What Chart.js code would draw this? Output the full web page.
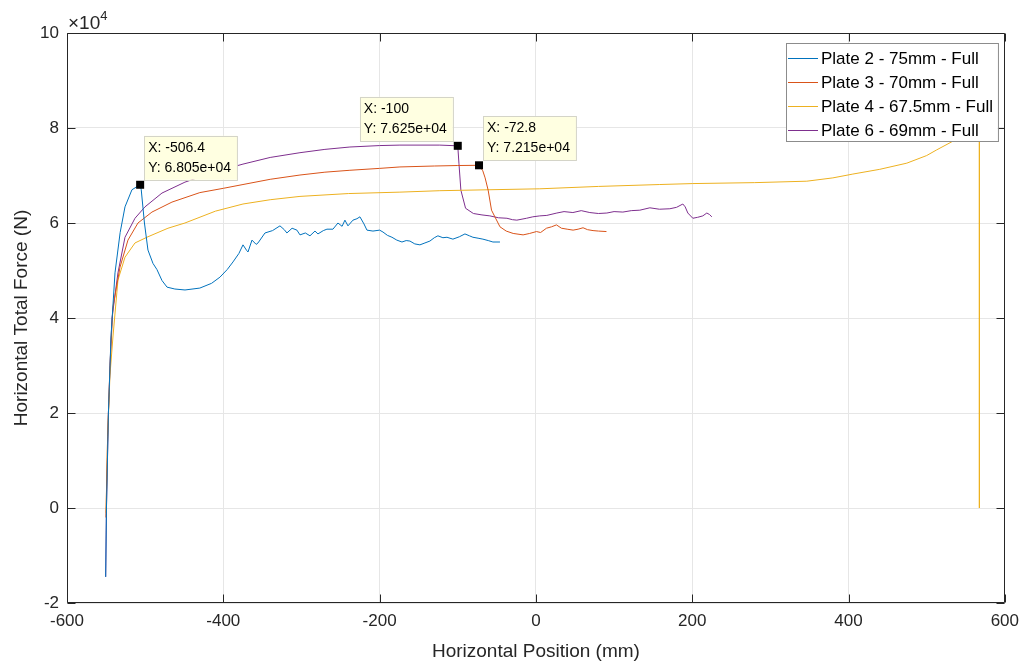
<!DOCTYPE html>
<html>
<head>
<meta charset="utf-8">
<script src="https://cdn.jsdelivr.net/npm/chart.js@4.4.1/dist/chart.umd.min.js"></script>
<style>
  body { margin: 0; background: #fff; }
</style>
</head>
<body>
<canvas id="chart" width="1027" height="666"></canvas>
<script>
// axis ticks
const xTicks = [-600, -400, -200, 0, 200, 400, 600];
const yTicks = [-20000, 0, 20000, 40000, 60000, 80000, 100000];

const seriesNames = ["Plate 2 - 75mm - Full", "Plate 3 - 70mm - Full", "Plate 4 - 67.5mm - Full", "Plate 6 - 69mm - Full"];
const seriesColors = ["#0072BD", "#D95319", "#EDB120", "#7E2F8E"];

// [position mm, force N]
const plate2 = [[-550.5,-14500],[-549.5,0],[-547,20000],[-543.7,36000],[-538.6,49500],[-532,58000],[-525.8,63400],
  [-516.9,67000],[-506.4,68050],[-505,67000],[-500.9,60000],[-496.4,54300],[-490,51500],[-484.9,50200],[-478.5,47900],
  [-472,46500],[-462,46100],[-449,45900],[-430,46300],[-415,47300],[-404.3,48600],[-395,50200],[-387.6,51800],[-380,53600],
  [-374.8,55400],[-370,54200],[-368.4,53900],[-363.3,56400],[-358,55500],[-355.6,55800],[-346.7,57900],[-337,58400],
  [-327.5,59400],[-322,58600],[-318.6,57900],[-312,58900],[-305.8,58500],[-301.9,57500],[-295,57900],[-289.1,57300],
  [-282.7,58300],[-278.9,57700],[-272,58400],[-267.4,58700],[-259.7,58700],[-253.3,60000],[-248,59300],[-244.4,60600],
  [-240.5,59400],[-234.1,60600],[-229,60900],[-225.2,61300],[-220,59800],[-216.2,58500],[-208.5,58300],[-200,58500],
  [-195.7,58100],[-190,57400],[-184.2,57000],[-178,56400],[-171.4,56000],[-166,56300],[-161.2,56200],[-155,55600],
  [-148.4,55400],[-142,55800],[-135.6,56200],[-130,56900],[-125.4,57300],[-119,56900],[-113.8,57000],[-106.2,56600],
  [-98,57100],[-90.8,57700],[-85,57300],[-80.6,57000],[-74,56800],[-67.8,56600],[-61,56300],[-55,56000],[-46,56000]];

const plate3 = [[-550.2,-2000],[-548,15000],[-545,30000],[-541.2,42300],[-532.2,50700],[-522,56400],[-509.2,60000],
  [-491.3,62300],[-465.7,64400],[-430,66400],[-400,67300],[-374.8,68100],[-340,69200],[-301.9,70100],[-270,70700],
  [-238,71100],[-200,71500],[-174,71800],[-130,72000],[-100,72100],[-72.8,72150],[-68,71000],[-65,69500],[-61.1,66900],
  [-56.8,62700],[-46,59200],[-38,58300],[-29.1,57800],[-16.4,57500],[-8,57800],[0.7,58200],[6,58000],[13.5,58900],
  [20,59200],[26.3,59600],[32.7,58900],[40,58700],[47.6,58500],[54,58700],[60.3,59000],[66,58600],[73.1,58400],
  [80,58300],[90.3,58200]];

const plate4 = [[-550,-1000],[-548,15000],[-545,28000],[-541.2,36000],[-534.8,48000],[-525.8,52800],[-513,55800],
  [-496.4,57100],[-470.8,58900],[-449.1,60000],[-410,62500],[-374.8,64000],[-340,64900],[-301.9,65600],[-240,66200],
  [-174,66500],[-122.9,66800],[-60,67000],[5,67200],[80,67700],[158.5,68100],[200.8,68300],[280,68500],[346.6,68800],
  [380,69500],[405.5,70300],[440,71300],[474.6,72600],[500,74200],[512.9,75400],[532.2,77100],[550,78800],
  [562,79900],[566.5,80300],[567.5,78500],[567.9,30000],[567.3,2000],[567.2,0]];

const plate6 = [[-550.5,-14500],[-549.5,0],[-547,20000],[-544,34000],[-542.4,40000],[-534.8,49500],[-525.8,57000],
  [-513,61000],[-500.2,63400],[-478.5,66300],[-449.1,68600],[-410,70800],[-374.8,72400],[-340,73800],[-301.9,74800],
  [-270,75500],[-238,76000],[-200,76300],[-174,76400],[-123,76400],[-100,76250],[-98.5,72600],[-96,66900],[-90,63100],
  [-80,62000],[-69,61700],[-58.9,61500],[-48,61100],[-37.1,61000],[-30,60700],[-24.4,60600],[-12,61000],[-4,61300],
  [5,61500],[14,61600],[26.8,62100],[36,62400],[47.3,62200],[58,62600],[69,62200],[80,62000],[90.8,62100],[100,62400],
  [111.3,62300],[122,62600],[133,62700],[145.8,63200],[158,62900],[171.4,63000],[180,63300],[188,64000],[191,63400],
  [194.4,62100],[200.8,61000],[207,61200],[213.6,61500],[218.7,62100],[222,61800],[225.1,61300]];

// data cursors: [series index, x, y]
const cursorPoints = [[0, -506.4, 68050], [3, -100, 76250], [1, -72.8, 72150]];
const cursorText = [["X: -506.4", "Y: 6.805e+04"], ["X: -100", "Y: 7.625e+04"], ["X: -72.8", "Y: 7.215e+04"]];
const cursorSide = ["right", "left", "right"];

const FONT = '"Liberation Sans", Arial, Helvetica, sans-serif';
const INK = "#262626";

const toXY = (arr) => arr.map(p => ({ x: p[0], y: p[1] }));

const matlabBits = {
  id: "matlabBits",
  afterDatasetsDraw(chart) {
    const { ctx, chartArea: a, scales } = chart;
    const sx = scales.x, sy = scales.y;
    ctx.save();

    // box + inward ticks
    ctx.strokeStyle = INK;
    ctx.lineWidth = 1;
    const L = Math.round(a.left) + 0.5, R = Math.round(a.right) - 0.5;
    const T = Math.round(a.top) + 0.5, B = Math.round(a.bottom) - 0.5;
    ctx.beginPath();
    ctx.rect(L, T, R - L, B - T);
    xTicks.forEach(v => {
      const px = Math.round(sx.getPixelForValue(v)) + 0.5;
      ctx.moveTo(px, B); ctx.lineTo(px, B - 8);
      ctx.moveTo(px, T); ctx.lineTo(px, T + 8);
    });
    yTicks.forEach(v => {
      const py = Math.round(sy.getPixelForValue(v)) + 0.5;
      ctx.moveTo(L, py); ctx.lineTo(L + 8, py);
      ctx.moveTo(R, py); ctx.lineTo(R - 8, py);
    });
    ctx.stroke();

    // exponent label
    ctx.fillStyle = INK;
    ctx.textBaseline = "alphabetic";
    ctx.textAlign = "left";
    ctx.font = "19px " + FONT;
    ctx.fillText("\u00d710", a.left + 1, a.top - 4);
    const w10 = ctx.measureText("\u00d710").width;
    ctx.font = "13px " + FONT;
    ctx.fillText("4", a.left + 1 + w10, a.top - 13);

    // data cursors
    ctx.font = "14px " + FONT;
    cursorPoints.forEach((c, i) => {
      const px = sx.getPixelForValue(c[1]);
      const py = sy.getPixelForValue(c[2]);
      const lines = cursorText[i];
      const w = Math.max(...lines.map(t => ctx.measureText(t).width)) + 10;
      const h = 44;
      const bx = cursorSide[i] === "right" ? px + 4 : px - 5 - w;
      const by = py - 5 - h;
      ctx.fillStyle = "#ffffe1";
      ctx.fillRect(bx, by, w, h);
      ctx.strokeStyle = "#d4d4c8";
      ctx.strokeRect(Math.round(bx) + 0.5, Math.round(by) + 0.5, w, h);
      ctx.fillStyle = "#000";
      ctx.textBaseline = "middle";
      ctx.fillText(lines[0], bx + 4, by + 12);
      ctx.fillText(lines[1], bx + 4, by + 32);
      ctx.fillRect(px - 4, py - 4, 8, 8);
    });

    // legend (inside, top right)
    ctx.font = "17px " + FONT;
    const tw = Math.max(...seriesNames.map(t => ctx.measureText(t).width));
    const lw = 35 + tw + 5, lh = 98;
    const lx = Math.round(a.right - 7 - lw), ly = Math.round(a.top + 10);
    ctx.fillStyle = "#fff";
    ctx.fillRect(lx, ly, lw, lh);
    ctx.strokeStyle = "#8c8c8c";
    ctx.strokeRect(lx + 0.5, ly + 0.5, lw, lh);
    seriesNames.forEach((name, i) => {
      const ry = ly + 15 + i * 24;
      ctx.strokeStyle = seriesColors[i];
      ctx.beginPath();
      ctx.moveTo(lx + 2, ry + 0.5);
      ctx.lineTo(lx + 32, ry + 0.5);
      ctx.stroke();
      ctx.fillStyle = "#000";
      ctx.textBaseline = "middle";
      ctx.fillText(name, lx + 35, ry + 1);
    });
    ctx.restore();
  }
};

new Chart("chart", {
  type: "scatter",
  data: {
    datasets: [plate2, plate3, plate4, plate6].map((d, i) => ({
      label: seriesNames[i],
      data: toXY(d),
      showLine: true,
      borderColor: seriesColors[i],
      backgroundColor: seriesColors[i],
      borderWidth: 1,
      pointRadius: 0,
      tension: 0,
    })),
  },
  options: {
    responsive: false,
    animation: false,
    layout: { padding: { top: 33, right: 22, left: 0, bottom: 0 } },
    plugins: { legend: { display: false }, tooltip: { enabled: false } },
    scales: {
      x: {
        type: "linear",
        min: -600,
        max: 600,
        afterBuildTicks: (s) => { s.ticks = xTicks.map(v => ({ value: v })); },
        afterFit: (s) => { s.height = 63; },
        grid: { color: "#e6e6e6", drawTicks: false },
        border: { display: false },
        ticks: { color: INK, font: { family: FONT, size: 17 }, padding: 8, maxRotation: 0 },
        title: { display: true, text: "Horizontal Position (mm)", color: INK, font: { family: FONT, size: 19 }, padding: { top: 0, bottom: 3 } },
      },
      y: {
        type: "linear",
        min: -20000,
        max: 100000,
        afterBuildTicks: (s) => { s.ticks = yTicks.map(v => ({ value: v })); },
        afterFit: (s) => { s.width = 67; },
        grid: { color: "#e6e6e6", drawTicks: false },
        border: { display: false },
        ticks: { color: INK, font: { family: FONT, size: 17 }, padding: 8, callback: (v) => v / 10000 },
        title: { display: true, text: "Horizontal Total Force (N)", color: INK, font: { family: FONT, size: 19 }, padding: { top: 10 } },
      },
    },
  },
  plugins: [matlabBits],
});
</script>
</body>
</html>
